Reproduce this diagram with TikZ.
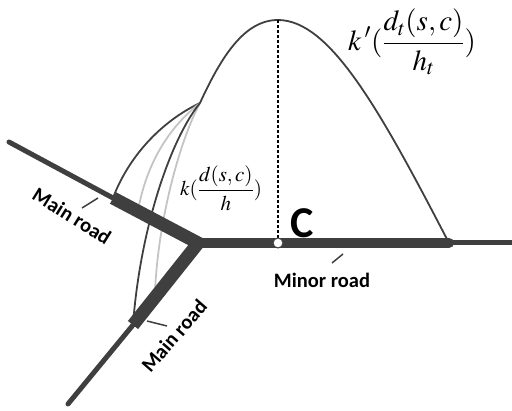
\documentclass[tikz,border=0pt]{standalone}
\usepackage[no-math]{fontspec}
\usepackage{mathptmx}
\usetikzlibrary{calc}
\newfontfamily\lab{Carlito}
\definecolor{road}{HTML}{3F3F3F}
\definecolor{lgray}{HTML}{C4C4C4}
\begin{document}
\begin{tikzpicture}[x=1pt,y=-1pt,
  thinroad/.style={draw=road,line width=5pt,line cap=round},
  mainroad/.style={draw=road,line width=13pt},
  minorroad/.style={draw=road,line width=10pt,line cap=round},
  darkcurve/.style={draw=road,line width=1.8pt},
  graycurve/.style={draw=lgray,line width=1.8pt},
  leader/.style={draw=road,line width=1.5pt},
  roadlabel/.style={font=\lab\bfseries\fontsize{20.5}{23}\selectfont,inner sep=0pt}]
\useasboundingbox (0,0) rectangle (512,411);
% key points
\coordinate (UL) at (9,142);
\coordinate (UT) at (113,198);
\coordinate (J) at (197,243);
\coordinate (LL) at (68,404);
\coordinate (LT) at (133,325);
\coordinate (C) at (278,243);
\coordinate (RT) at (449,243);
\coordinate (RE) at (512,243);
\coordinate (P) at (200,103);
\coordinate (A) at (278,20);
\coordinate (G1) at (138,211);
\coordinate (G2) at (155,292);
% curves
\draw[darkcurve] (P) .. controls (160,122) and (128,158) .. (UT);
\draw[graycurve] (P) .. controls (168,128) and (146,165) .. (G1);
\draw[graycurve] (P) .. controls (180,140) and (158,220) .. (G2);
\draw[darkcurve] (P) .. controls (170,140) and (140,230) .. (LT);
\draw[darkcurve] (P) .. controls (222,55) and (245,20) .. (A)
  .. controls (330,20) and (380,110) .. (RT);
% dotted vertical
\draw[line width=2pt,dash pattern=on 3pt off 2pt] (A) -- (C);
% roads
\draw[thinroad] (UL) -- (UT);
\draw[thinroad] (LL) -- (LT);
\draw[thinroad] (RT) -- (RE);
\draw[mainroad] (UT) -- ($(J)+(3,1)$);
\draw[mainroad] (LT) -- ($(J)+(2,-1)$);
\draw[minorroad] (J) -- (RT);
\fill[road] (J) circle (6pt);
% point C
\node[circle,draw=road,fill=white,line width=1pt,minimum size=10pt,inner sep=0pt] (Cpt) at (C) {};
\node[font=\lab\bfseries\fontsize{44}{46}\selectfont,inner sep=0pt] (Clab) at (302,223) {C};
% labels
\node[roadlabel,rotate=-32] (ml1) at (72,216) {Main road};
\node[roadlabel,rotate=49] (ml2) at (174,336) {Main road};
\node[roadlabel] (mr) at (322,280) {Minor road};
\coordinate (l1a) at (82,208); \coordinate (l1b) at (98,198);
\coordinate (l2a) at (147,321); \coordinate (l2b) at (167,326);
\coordinate (l3a) at (332,263); \coordinate (l3b) at (343,254);
\draw[leader] (l1a) -- (l1b);
\draw[leader] (l2a) -- (l2b);
\draw[leader] (l3a) -- (l3b);
% formulas
\node[inner sep=0pt,font=\fontsize{29}{32}\selectfont] (f1) at (412,42)
  {$\displaystyle k\,'(\frac{d_t(s,c)}{h_t})$};
\node[inner sep=0pt,font=\fontsize{21}{24}\selectfont] (f2) at (221,188)
  {$\displaystyle k(\frac{d(s,c)}{h})$};
\end{tikzpicture}
\end{document}
